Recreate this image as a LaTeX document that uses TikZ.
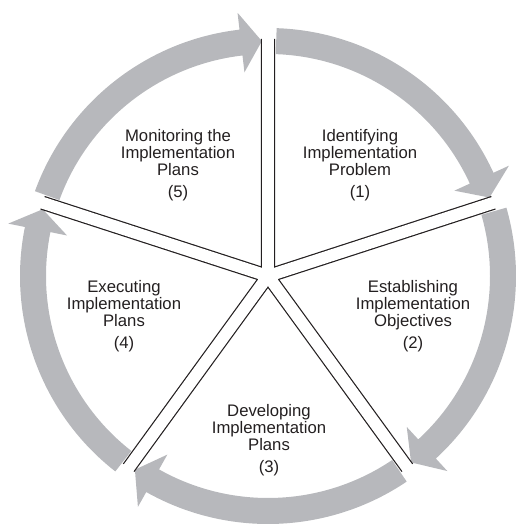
\documentclass[tikz,border=0pt]{standalone}
\usepackage{fontspec}
\setmainfont{Liberation Sans}
\definecolor{ringgray}{RGB}{183, 184, 188}
\definecolor{inkblack}{RGB}{35, 31, 32}
\usepackage{tikz}

\begin{document}
\begin{tikzpicture}[
  x=1pt, y=1pt,
  cyclearr/.style={fill=ringgray, draw=none},
  spokeedge/.style={draw=inkblack, line width=14.2pt},
  spokefill/.style={draw=white, line width=11.8pt},
  phase/.style={align=center, text=inkblack,
                font=\fontsize{16.7}{17}\selectfont}
]
\useasboundingbox (-268,-249) rectangle (247,276);

% ring of five arrows, clockwise
\fill[cyclearr] (88:248) arc[start angle=88, end angle=24.6, radius=248]
  -- (24.6:265) -- (19.5:235) -- (24.6:205) -- (24.6:222)
  arc[start angle=24.6, end angle=88, radius=222] -- cycle;
\fill[cyclearr] (16:248) arc[start angle=16, end angle=-47.4, radius=248]
  -- (-47.4:265) -- (-52.5:235) -- (-47.4:205) -- (-47.4:222)
  arc[start angle=-47.4, end angle=16, radius=222] -- cycle;
\fill[cyclearr] (-56:248) arc[start angle=-56, end angle=-119.4, radius=248]
  -- (-119.4:265) -- (-124.5:235) -- (-119.4:205) -- (-119.4:222)
  arc[start angle=-119.4, end angle=-56, radius=222] -- cycle;
\fill[cyclearr] (-128:248) arc[start angle=-128, end angle=-191.4, radius=248]
  -- (-191.4:265) -- (-196.5:235) -- (-191.4:205) -- (-191.4:222)
  arc[start angle=-191.4, end angle=-128, radius=222] -- cycle;
\fill[cyclearr] (160:248) arc[start angle=160, end angle=96.6, radius=248]
  -- (96.6:265) -- (91.5:235) -- (96.6:205) -- (96.6:222)
  arc[start angle=96.6, end angle=160, radius=222] -- cycle;

% hub and spoke ends (white runs a bit further so the ends stay open)
\coordinate (hub) at (0,0);
\coordinate (s1) at (90:237);
\coordinate (s2) at (18:237);
\coordinate (s3) at (-54:237);
\coordinate (s4) at (-126:237);
\coordinate (s5) at (162:237);
\coordinate (t1) at (90:240);
\coordinate (t2) at (18:240);
\coordinate (t3) at (-54:240);
\coordinate (t4) at (-126:240);
\coordinate (t5) at (162:240);

% double-lined spokes
\draw[spokeedge] (hub) -- (s1) (hub) -- (s2) (hub) -- (s3) (hub) -- (s4) (hub) -- (s5);
\draw[spokefill] (hub) -- (t1) (hub) -- (t2) (hub) -- (t3) (hub) -- (t4) (hub) -- (t5);

\node[phase] (p1) at (92,111)    {Identifying\\Implementation\\Problem\\[5pt](1)};
\node[phase] (p2) at (145,-40.5) {Establishing\\Implementation\\Objectives\\[5pt](2)};
\node[phase] (p3) at (1,-164)    {Developing\\Implementation\\Plans\\[5pt](3)};
\node[phase] (p4) at (-144,-40.5){Executing\\Implementation\\Plans\\[5pt](4)};
\node[phase] (p5) at (-90,111)   {Monitoring the\\Implementation\\Plans\\[5pt](5)};

\end{tikzpicture}
\end{document}
